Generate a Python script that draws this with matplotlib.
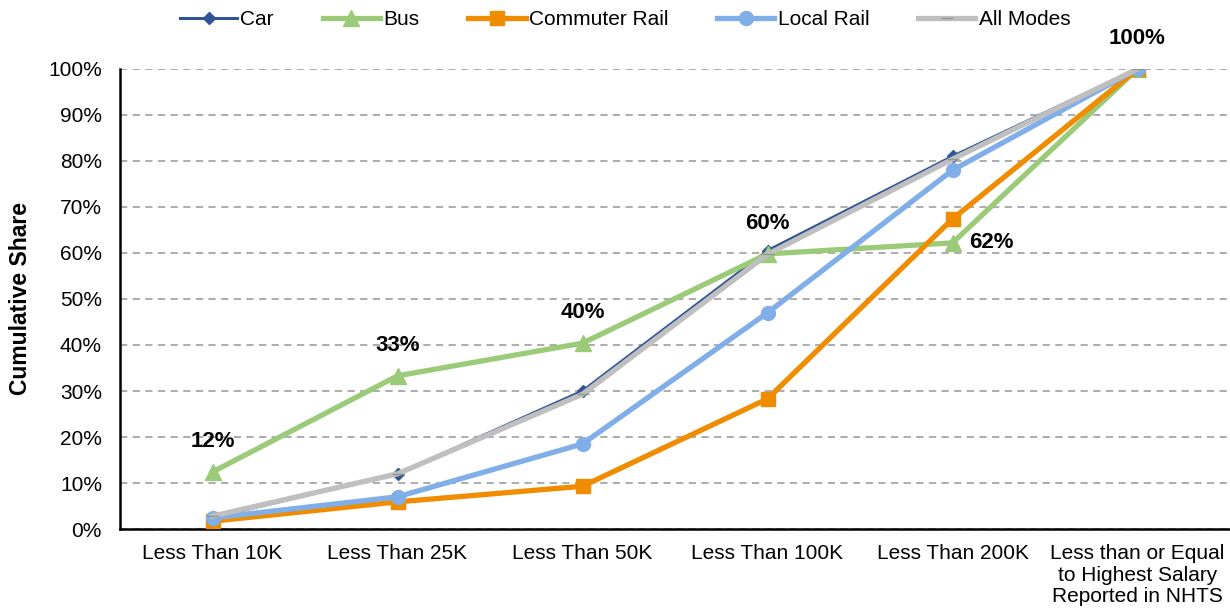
import numpy as np
import matplotlib.pyplot as plt
from matplotlib.ticker import PercentFormatter

plt.rcParams["font.family"] = ["Liberation Sans", "DejaVu Sans"]

# %% Data
categories = [
    "Less Than 10K",
    "Less Than 25K",
    "Less Than 50K",
    "Less Than 100K",
    "Less Than 200K",
    "Less than or Equal\nto Highest Salary\nReported in NHTS",
]
car = [2.5, 12.0, 30.0, 60.5, 81.0, 100.0]
bus = [12.4, 33.3, 40.4, 59.8, 62.2, 100.0]
commuter_rail = [1.7, 5.9, 9.3, 28.3, 67.4, 100.0]
local_rail = [2.4, 7.0, 18.5, 47.0, 78.0, 100.0]
all_modes = [2.8, 12.0, 29.3, 59.7, 80.4, 100.0]
bus_labels = ["12%", "33%", "40%", "60%", "62%", "100%"]

# %% Plot
fig = plt.figure(figsize=(12.3, 6.12), dpi=100)
ax = fig.add_axes([0.0976, 0.1356, 0.9024, 0.7517])
x = np.arange(len(categories))

ax.plot(x, car, color="#2F5597", lw=2.2, marker="D", ms=6, label="Car", zorder=3)
ax.plot(x, bus, color="#9BCB78", lw=3.8, marker="^", ms=12, label="Bus", zorder=4)
ax.plot(x, commuter_rail, color="#F08C00", lw=3.8, marker="s", ms=10,
        label="Commuter Rail", zorder=5)
ax.plot(x, local_rail, color="#7FAEE8", lw=3.8, marker="o", ms=10,
        label="Local Rail", zorder=6)
ax.plot(x, all_modes, color="#BFBFBF", lw=3.8, marker="_", ms=8, mec="#8C9A8C",
        mew=1, label="All Modes", zorder=7)

# bus value labels
for i, (v, lab) in enumerate(zip(bus, bus_labels)):
    if i == 4:
        ax.annotate(lab, (x[i], v), xytext=(28, 0), textcoords="offset points",
                    ha="center", va="center", fontsize=16, fontweight="bold")
    else:
        ax.annotate(lab, (x[i], v), xytext=(0, 22), textcoords="offset points",
                    ha="center", va="center", fontsize=16, fontweight="bold")

ax.set_xlim(-0.5, 5.5)
ax.set_ylim(0, 100)
ax.set_yticks(np.arange(0, 101, 10))
ax.yaxis.set_major_formatter(PercentFormatter(decimals=0))
ax.set_xticks(x)
ax.set_xticklabels(categories, fontsize=15, linespacing=1.15)
ax.tick_params(axis="y", labelsize=15, length=0, pad=13)
ax.tick_params(axis="x", length=0, pad=11)
ax.grid(axis="y", color="#A6A6A6", linestyle=(0, (4, 3)), lw=1.3)
ax.set_axisbelow(True)
for s in ["top", "right"]:
    ax.spines[s].set_visible(False)
ax.spines["left"].set_linewidth(1.8)
ax.spines["bottom"].set_linewidth(1.8)
ax.set_ylabel("Cumulative Share", fontsize=16.5, fontweight="bold", labelpad=12)

ax.legend(loc="center", bbox_to_anchor=(0.455, 1.107), ncol=5, frameon=False,
          fontsize=15, handlelength=2.75, handletextpad=0.15, columnspacing=2.35,
          markerscale=1.0, borderpad=0)

fig.savefig("out.png", dpi=100)
